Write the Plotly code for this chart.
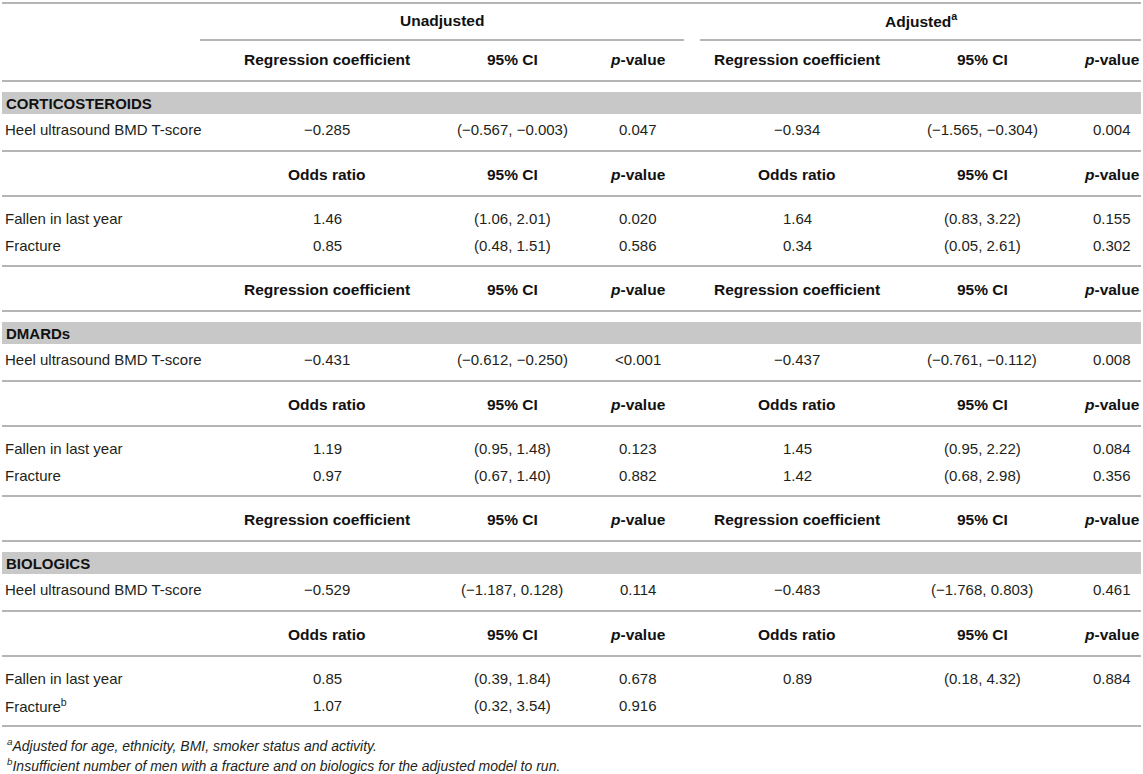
import plotly.graph_objects as go

# table values, one entry per drug group
groups = ["CORTICOSTEROIDS", "DMARDs", "BIOLOGICS"]

bmd_unadj_coef = ["\u22120.285", "\u22120.431", "\u22120.529"]
bmd_unadj_ci = ["(\u22120.567, \u22120.003)", "(\u22120.612, \u22120.250)", "(\u22121.187, 0.128)"]
bmd_unadj_p = ["0.047", "<0.001", "0.114"]
bmd_adj_coef = ["\u22120.934", "\u22120.437", "\u22120.483"]
bmd_adj_ci = ["(\u22121.565, \u22120.304)", "(\u22120.761, \u22120.112)", "(\u22121.768, 0.803)"]
bmd_adj_p = ["0.004", "0.008", "0.461"]

fall_unadj_or = ["1.46", "1.19", "0.85"]
fall_unadj_ci = ["(1.06, 2.01)", "(0.95, 1.48)", "(0.39, 1.84)"]
fall_unadj_p = ["0.020", "0.123", "0.678"]
fall_adj_or = ["1.64", "1.45", "0.89"]
fall_adj_ci = ["(0.83, 3.22)", "(0.95, 2.22)", "(0.18, 4.32)"]
fall_adj_p = ["0.155", "0.084", "0.884"]

frac_unadj_or = ["0.85", "0.97", "1.07"]
frac_unadj_ci = ["(0.48, 1.51)", "(0.67, 1.40)", "(0.32, 3.54)"]
frac_unadj_p = ["0.586", "0.882", "0.916"]
frac_adj_or = ["0.34", "1.42", ""]
frac_adj_ci = ["(0.05, 2.61)", "(0.68, 2.98)", ""]
frac_adj_p = ["0.302", "0.356", ""]

row_labels = ["Heel ultrasound BMD T-score", "Fallen in last year", "Fracture"]
reg_header = ["Regression coefficient", "95% CI", "<i>p</i>-value"]
or_header = ["Odds ratio", "95% CI", "<i>p</i>-value"]
footnotes = ["<sup>a</sup>Adjusted for age, ethnicity, BMI, smoker status and activity.",
             "<sup>b</sup>Insufficient number of men with a fracture and on biologics for the adjusted model to run."]

W, H = 1143, 774
col_x = [327, 512, 638, 797, 982, 1112]
line_col = "#b5b5b5"
band_col = "#c8c8c8"
txt_col = "#231f20"
FONT = "Liberation Sans, Arial, sans-serif"

fig = go.Figure()
shapes = []
annots = []

def hline(y, x0=2, x1=1141):
    shapes.append(dict(type="line", xref="x", yref="y", x0=x0, x1=x1, y0=y, y1=y,
                       line=dict(color=line_col, width=2)))

def text(x, y, s, bold=False, anchor="center", size=15, color=txt_col):
    if bold:
        s = "<b>" + s + "</b>"
    annots.append(dict(x=x, y=y, xref="x", yref="y", text=s, showarrow=False,
                       xanchor=anchor, yanchor="middle",
                       font=dict(family=FONT, size=size, color=color)))

def header_row(y, hdr):
    for k in range(6):
        text(col_x[k], y, hdr[k % 3], bold=True, size=15.5, color="#111")

def value_row(y, label, vals):
    text(3, y, label, anchor="left")
    for k, v in enumerate(vals):
        if v:
            text(col_x[k], y, v)

# top header block
hline(3)
text(442, 20, "Unadjusted", bold=True, size=15.5, color="#111")
text(921, 20, "Adjusted<sup>a</sup>", bold=True, size=15.5, color="#111")
hline(40, 200, 684)
hline(40, 700, 1141)
header_row(59, reg_header)
hline(81)

for i, g in enumerate(groups):
    b = 92 + 230 * i
    shapes.append(dict(type="rect", xref="x", yref="y", x0=2, x1=1141, y0=b, y1=b + 22,
                       fillcolor=band_col, line=dict(width=0), layer="below"))
    text(4, b + 11, g, bold=True, anchor="left", color="#111")
    value_row(b + 37, row_labels[0],
              [bmd_unadj_coef[i], bmd_unadj_ci[i], bmd_unadj_p[i],
               bmd_adj_coef[i], bmd_adj_ci[i], bmd_adj_p[i]])
    hline(b + 59)
    header_row(b + 82, or_header)
    hline(b + 104)
    value_row(b + 126, row_labels[1],
              [fall_unadj_or[i], fall_unadj_ci[i], fall_unadj_p[i],
               fall_adj_or[i], fall_adj_ci[i], fall_adj_p[i]])
    frac_label = row_labels[2] + ("<sup>b</sup>" if i == 2 else "")
    value_row(b + 153, frac_label,
              [frac_unadj_or[i], frac_unadj_ci[i], frac_unadj_p[i],
               frac_adj_or[i], frac_adj_ci[i], frac_adj_p[i]])
    hline(b + 174)
    if i < 2:
        header_row(b + 197, reg_header)
        hline(b + 219)

text(5, 745, "<i>" + footnotes[0] + "</i>", anchor="left", size=14)
text(5, 765, "<i>" + footnotes[1] + "</i>", anchor="left", size=14)

fig.update_layout(width=W, height=H, margin=dict(l=0, r=0, t=0, b=0),
                  paper_bgcolor="white", plot_bgcolor="white",
                  shapes=shapes, annotations=annots, showlegend=False)
fig.update_xaxes(range=[0, W], visible=False, fixedrange=True)
fig.update_yaxes(range=[H, 0], visible=False, fixedrange=True)
fig.write_html("out.html", config={"displayModeBar": False},
               post_script="document.body.style.margin='0';document.body.style.overflow='hidden';")
